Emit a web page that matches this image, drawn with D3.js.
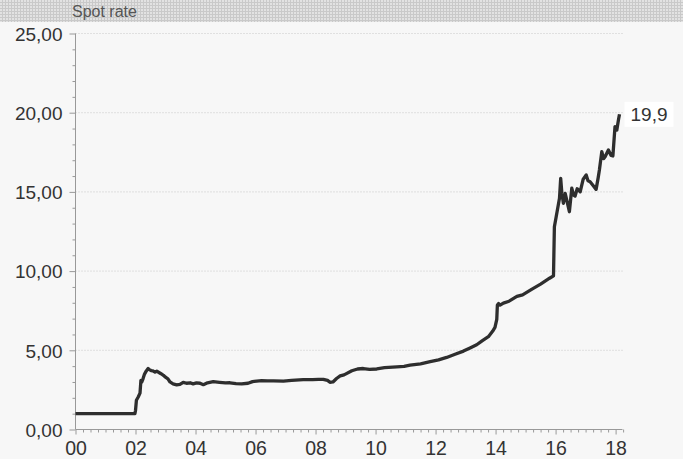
<!DOCTYPE html>
<html>
<head>
<meta charset="utf-8">
<script src="https://cdn.jsdelivr.net/npm/d3@7"></script>
<style>
  html, body { margin: 0; padding: 0; background: #f7f7f7; }
  svg { display: block; font-family: "Liberation Sans", Arial, sans-serif; }
</style>
</head>
<body>
<svg id="chart"></svg>
<script>
// spot rate, decimal year -> rate
const years = [
  2000.00, 2001.98, 2002.00, 2002.03, 2002.09, 2002.15, 2002.18, 2002.21, 2002.25, 2002.30,
  2002.36, 2002.42, 2002.46, 2002.52, 2002.58, 2002.65, 2002.71, 2002.78, 2002.85, 2002.93,
  2003.00, 2003.08, 2003.15, 2003.25, 2003.37, 2003.48, 2003.59, 2003.70, 2003.82, 2003.92,
  2004.03, 2004.15, 2004.26, 2004.40, 2004.59, 2004.80, 2005.00, 2005.15, 2005.35, 2005.54,
  2005.75, 2005.90, 2006.04, 2006.20, 2006.40, 2006.60, 2006.93, 2007.20, 2007.59, 2007.90,
  2008.10, 2008.26, 2008.40, 2008.48, 2008.58, 2008.70, 2008.82, 2008.95, 2009.21, 2009.40,
  2009.59, 2009.80, 2010.04, 2010.30, 2010.71, 2010.95, 2011.15, 2011.50, 2011.82, 2012.10,
  2012.37, 2012.65, 2012.93, 2013.15, 2013.37, 2013.55, 2013.76, 2013.90, 2013.98, 2014.04,
  2014.06, 2014.10, 2014.15, 2014.26, 2014.45, 2014.71, 2014.90, 2015.20, 2015.50, 2015.80,
  2015.93, 2015.96, 2016.02, 2016.09, 2016.13, 2016.17, 2016.21, 2016.26, 2016.32, 2016.37,
  2016.46, 2016.54, 2016.60, 2016.65, 2016.72, 2016.82, 2016.92, 2017.02, 2017.08, 2017.15,
  2017.25, 2017.35, 2017.42, 2017.46, 2017.54, 2017.60, 2017.65, 2017.76, 2017.85, 2017.91,
  2017.98, 2018.04, 2018.10, 2018.13
];
const rates = [
  1.00, 1.00, 1.20, 1.85, 2.05, 2.30, 3.10, 3.00, 3.20, 3.50,
  3.70, 3.85, 3.78, 3.72, 3.70, 3.62, 3.68, 3.60, 3.52, 3.42,
  3.30, 3.20, 3.00, 2.88, 2.82, 2.85, 2.98, 2.92, 2.95, 2.88,
  2.94, 2.92, 2.83, 2.95, 3.02, 2.98, 2.94, 2.95, 2.90, 2.88,
  2.92, 3.02, 3.06, 3.08, 3.07, 3.07, 3.06, 3.10, 3.15, 3.15,
  3.16, 3.17, 3.10, 2.98, 3.00, 3.22, 3.38, 3.45, 3.71, 3.82,
  3.85, 3.80, 3.82, 3.90, 3.96, 3.98, 4.06, 4.15, 4.28, 4.40,
  4.55, 4.75, 4.95, 5.15, 5.35, 5.60, 5.86, 6.20, 6.45, 6.95,
  7.86, 7.95, 7.85, 7.98, 8.10, 8.40, 8.50, 8.85, 9.18, 9.55,
  9.70, 12.80, 13.43, 14.17, 14.60, 15.86, 14.90, 14.28, 14.90, 14.49,
  13.75, 15.23, 14.80, 14.74, 15.20, 15.01, 15.80, 16.07, 15.70, 15.64,
  15.40, 15.16, 15.90, 16.38, 17.54, 17.10, 17.22, 17.65, 17.30, 17.27,
  19.12, 18.90, 19.60, 19.90
];
const yTicks = [0, 5, 10, 15, 20, 25];
const xTicks = [2000, 2002, 2004, 2006, 2008, 2010, 2012, 2014, 2016, 2018];
const title = "Spot rate";

const width = 683, height = 459;
const svg = d3.select("#chart").attr("width", width).attr("height", height);

const x = d3.scaleLinear().domain([2000, 2018.23]).range([75.5, 622.5]);
const y = d3.scaleLinear().domain([0, 25]).range([429.5, 33.5]);

const comma = f => v => f(v).replace(".", ",");

// header band with a fine grey grid texture
const defs = svg.append("defs");
const pat = defs.append("pattern")
  .attr("id", "grain").attr("width", 3).attr("height", 3)
  .attr("patternUnits", "userSpaceOnUse");
pat.append("rect").attr("width", 3).attr("height", 3).attr("fill", "#c9c9c9");
pat.append("rect").attr("width", 2).attr("height", 2).attr("fill", "#e2e2e2");

svg.append("rect").attr("x", 0).attr("y", 0).attr("width", width).attr("height", 22)
  .attr("fill", "url(#grain)");
svg.append("text").attr("x", 72).attr("y", 17)
  .attr("fill", "#555").style("font-size", "16px").text(title);

// gridlines
svg.append("g").selectAll("line")
  .data(yTicks.filter(d => d > 0))
  .enter().append("line")
  .attr("x1", x.range()[0]).attr("x2", x.range()[1])
  .attr("y1", d => y(d)).attr("y2", d => y(d))
  .attr("stroke", "#c8c8c8").attr("stroke-width", 1)
  .attr("stroke-dasharray", "1,2");

// minor ticks
svg.append("g")
  .attr("transform", `translate(${x.range()[0]},0)`)
  .call(d3.axisLeft(y).tickValues(d3.range(0, 26).filter(d => d % 5)).tickSize(3).tickFormat(""))
  .call(g => g.select(".domain").remove())
  .call(g => g.selectAll("line").attr("stroke", "#999"));
svg.append("g")
  .attr("transform", `translate(0,${y.range()[0]})`)
  .call(d3.axisBottom(x).tickValues(d3.range(2000, 2018.3, 0.25).filter(d => d % 2)).tickSize(3).tickFormat(""))
  .call(g => g.select(".domain").remove())
  .call(g => g.selectAll("line").attr("stroke", "#999"));

// y axis
const yAxis = svg.append("g")
  .attr("transform", `translate(${x.range()[0]},0)`)
  .call(d3.axisLeft(y).tickValues(yTicks).tickSize(6).tickPadding(7).tickFormat(comma(d3.format(".2f"))));
yAxis.select(".domain").attr("stroke", "#999").attr("d", `M0,${y.range()[1]}V${y.range()[0]}`);
yAxis.selectAll("line").attr("stroke", "#999");
yAxis.selectAll("text").attr("fill", "#333").style("font-size", "19px").attr("dy", "0.36em");

// x axis
const xAxis = svg.append("g")
  .attr("transform", `translate(0,${y.range()[0]})`)
  .call(d3.axisBottom(x).tickValues(xTicks).tickSize(5).tickPadding(7).tickFormat(d => String(d).slice(2)));
xAxis.select(".domain").attr("stroke", "#999").attr("d", `M${x.range()[0]},0H${x.range()[1]}`);
xAxis.selectAll("line").attr("stroke", "#999");
xAxis.selectAll("text").attr("fill", "#333").style("font-size", "19.5px");

// series
const pts = years.map((t, i) => [t, rates[i]]);
svg.append("path")
  .datum(pts)
  .attr("fill", "none")
  .attr("stroke", "#2e2e2e")
  .attr("stroke-width", 3.3)
  .attr("stroke-linejoin", "round")
  .attr("d", d3.line().x(d => x(d[0])).y(d => y(d[1])));

// last value label
const last = pts[pts.length - 1];
const lx = x(last[0]) + 5, ly = y(last[1]);
svg.append("rect").attr("x", lx).attr("y", ly - 12.5).attr("width", 49).attr("height", 25).attr("fill", "#fff");
svg.append("text").attr("x", lx + 24.5).attr("y", ly).attr("dy", "0.36em")
  .attr("text-anchor", "middle").attr("fill", "#333").style("font-size", "19px")
  .text(comma(d3.format(".1f"))(last[1]));
</script>
</body>
</html>
